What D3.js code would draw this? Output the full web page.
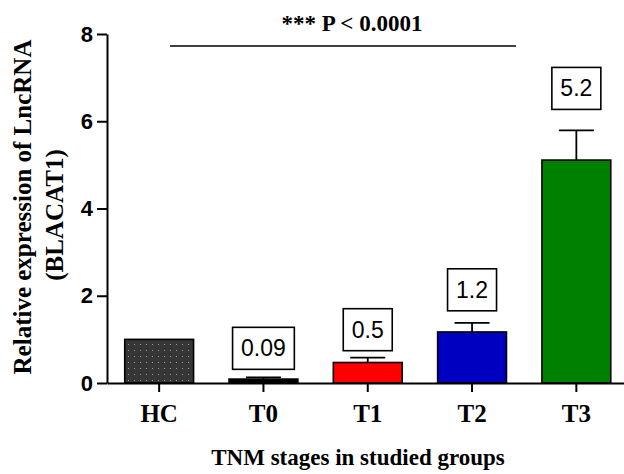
<!DOCTYPE html>
<html>
<head>
<meta charset="utf-8">
<script src="https://cdn.jsdelivr.net/npm/d3@7"></script>
<style>
  body { margin: 0; background: #fff; }
  svg { display: block; }
</style>
</head>
<body>
<svg id="chart" width="624" height="474"></svg>
<script>
// data
const categories = ["HC", "T0", "T1", "T2", "T3"];
const means = [1.0, 0.09, 0.47, 1.17, 5.11];
const sem = [0, 0.04, 0.11, 0.21, 0.68];
const valueLabels = [null, "0.09", "0.5", "1.2", "5.2"];
const yTicks = [0, 2, 4, 6, 8];
const barColors = ["url(#dots)", "#000000", "#ff0000", "#0000c0", "#008000"];

// layout
const labelGap = [0, 8, 7, 12, 21];
const serif = "'Liberation Serif', 'Times New Roman', serif";
const sans = "'Liberation Sans', Arial, sans-serif";

const svg = d3.select("#chart");

const defs = svg.append("defs");
const pat = defs.append("pattern")
  .attr("id", "dots")
  .attr("patternUnits", "userSpaceOnUse")
  .attr("width", 6).attr("height", 6);
pat.append("rect").attr("width", 6).attr("height", 6).attr("fill", "#363636");
pat.append("rect").attr("x", 2).attr("y", 2).attr("width", 1).attr("height", 1).attr("fill", "#9a9a9a");

const x = d3.scaleBand()
  .domain(categories)
  .range([107, 628.5])
  .paddingInner(0.34)
  .paddingOuter(0.17);

const y = d3.scaleLinear().domain([0, 8]).range([383, 34]);

// bars
svg.append("g").selectAll("rect")
  .data(categories)
  .enter()
  .append("rect")
  .attr("x", d => x(d))
  .attr("y", (d, i) => y(means[i]))
  .attr("width", x.bandwidth())
  .attr("height", (d, i) => y(0) - y(means[i]))
  .attr("fill", (d, i) => barColors[i])
  .attr("stroke", "#000")
  .attr("stroke-width", 1.6);

// error bars (upper only)
const err = svg.append("g").attr("stroke", "#000").attr("stroke-width", 1.8);
categories.forEach((c, i) => {
  if (!sem[i]) return;
  const cx = x(c) + x.bandwidth() / 2;
  err.append("line")
    .attr("x1", cx).attr("x2", cx)
    .attr("y1", y(means[i])).attr("y2", y(means[i] + sem[i]));
  err.append("line")
    .attr("x1", cx - 17.5).attr("x2", cx + 17.5)
    .attr("y1", y(means[i] + sem[i])).attr("y2", y(means[i] + sem[i]));
});

// value boxes
categories.forEach((c, i) => {
  if (!valueLabels[i]) return;
  const cx = x(c) + x.bandwidth() / 2;
  const bottom = y(means[i] + sem[i]) - labelGap[i];
  const g = svg.append("g");
  const t = g.append("text")
    .attr("x", cx)
    .attr("y", bottom - 13)
    .attr("text-anchor", "middle")
    .attr("font-family", sans)
    .attr("font-size", 23)
    .attr("fill", "#000")
    .text(valueLabels[i]);
  const w = t.node().getComputedTextLength() + 17;
  g.insert("rect", "text")
    .attr("x", cx - w / 2)
    .attr("y", bottom - 42)
    .attr("width", w)
    .attr("height", 42)
    .attr("fill", "#fff")
    .attr("stroke", "#000")
    .attr("stroke-width", 1.6);
});

// y axis
const yAxis = svg.append("g")
  .attr("transform", "translate(107,0)")
  .call(d3.axisLeft(y).tickValues(yTicks).tickSize(10).tickPadding(4).tickSizeOuter(0));
yAxis.select(".domain").attr("stroke-width", 2);
yAxis.selectAll(".tick line").attr("stroke-width", 2);
yAxis.selectAll(".tick text")
  .attr("font-family", sans)
  .attr("font-weight", "bold")
  .attr("font-size", 22)
  .attr("fill", "#000");

// x axis
const xAxis = svg.append("g")
  .attr("transform", "translate(0,383)")
  .call(d3.axisBottom(x).tickSize(9).tickPadding(12).tickSizeOuter(0));
xAxis.select(".domain").attr("stroke-width", 2);
xAxis.selectAll(".tick line").attr("stroke-width", 2);
xAxis.selectAll(".tick text")
  .attr("font-family", serif)
  .attr("font-weight", "bold")
  .attr("font-size", 25)
  .attr("fill", "#000");

// significance line
svg.append("line")
  .attr("x1", 170).attr("x2", 516)
  .attr("y1", 46).attr("y2", 46)
  .attr("stroke", "#000").attr("stroke-width", 1.6);
svg.append("text")
  .attr("x", 352).attr("y", 31)
  .attr("text-anchor", "middle")
  .attr("font-family", serif)
  .attr("font-weight", "bold")
  .attr("font-size", 23)
  .text("*** P < 0.0001");

// axis titles
svg.append("text")
  .attr("x", 358).attr("y", 465)
  .attr("text-anchor", "middle")
  .attr("font-family", serif)
  .attr("font-weight", "bold")
  .attr("font-size", 23)
  .text("TNM stages in studied groups");

const yt = svg.append("text")
  .attr("transform", "translate(0,207) rotate(-90)")
  .attr("text-anchor", "middle")
  .attr("font-family", serif)
  .attr("font-weight", "bold")
  .attr("font-size", 25);
yt.append("tspan").attr("x", 0).attr("y", 31).text("Relative expression of LncRNA");
yt.append("tspan").attr("x", -8).attr("y", 63).text("(BLACAT1)");
</script>
</body>
</html>
